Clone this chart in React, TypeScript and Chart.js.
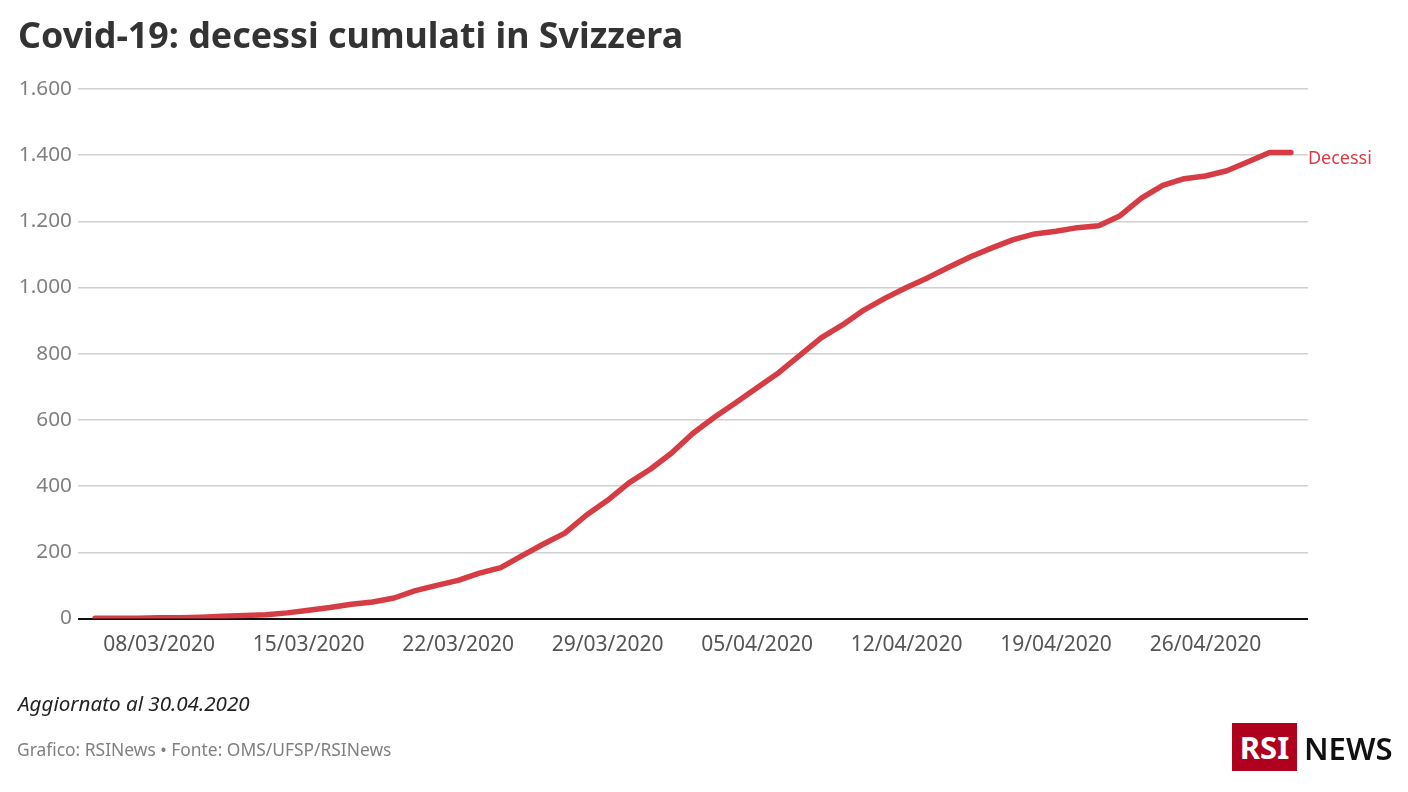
import React, { useEffect, useRef } from "react";
import { Chart, registerables } from "chart.js";

Chart.register(...registerables);

const TITLE = "Covid-19: decessi cumulati in Svizzera";
const UPDATED = "Aggiornato al 30.04.2020";
const SOURCE = "Grafico: RSINews • Fonte: OMS/UFSP/RSINews";
const SERIES_NAME = "Decessi";

const dates = [
  "05/03/2020","06/03/2020","07/03/2020","08/03/2020","09/03/2020","10/03/2020","11/03/2020",
  "12/03/2020","13/03/2020","14/03/2020","15/03/2020","16/03/2020","17/03/2020","18/03/2020",
  "19/03/2020","20/03/2020","21/03/2020","22/03/2020","23/03/2020","24/03/2020","25/03/2020",
  "26/03/2020","27/03/2020","28/03/2020","29/03/2020","30/03/2020","31/03/2020","01/04/2020",
  "02/04/2020","03/04/2020","04/04/2020","05/04/2020","06/04/2020","07/04/2020","08/04/2020",
  "09/04/2020","10/04/2020","11/04/2020","12/04/2020","13/04/2020","14/04/2020","15/04/2020",
  "16/04/2020","17/04/2020","18/04/2020","19/04/2020","20/04/2020","21/04/2020","22/04/2020",
  "23/04/2020","24/04/2020","25/04/2020","26/04/2020","27/04/2020","28/04/2020","29/04/2020",
  "30/04/2020",
];
const deaths = [
  1,1,1,2,2,4,7,9,11,17,25,33,43,50,62,84,100,115,137,154,190,225,258,312,357,410,451,500,
  560,608,652,697,742,795,848,887,932,968,1000,1030,1062,1093,1120,1145,1162,1170,1181,1187,
  1217,1270,1309,1329,1337,1353,1380,1408,1408,
];
const xTickDates = ["08/03/2020","15/03/2020","22/03/2020","29/03/2020","05/04/2020","12/04/2020","19/04/2020","26/04/2020"];
const yTicks = [0,200,400,600,800,1000,1200,1400,1600];

const FONT = "'Noto Sans', sans-serif";

const endLabel = {
  id: "endLabel",
  afterDatasetsDraw(chart: any) {
    const pt = chart.getDatasetMeta(0).data[deaths.length - 1];
    const { ctx } = chart;
    ctx.save();
    ctx.font = `18px ${FONT}`;
    ctx.fillStyle = "#dc3a44";
    ctx.textAlign = "left";
    ctx.textBaseline = "middle";
    ctx.fillText(SERIES_NAME, pt.x + 17, pt.y + 6);
    ctx.restore();
  },
};

export default function App() {
  const ref = useRef<HTMLCanvasElement>(null);
  useEffect(() => {
    const chart = new Chart(ref.current!, {
      type: "line",
      data: {
        labels: dates,
        datasets: [{
          label: SERIES_NAME,
          data: deaths.map((v, i) => ({ x: i, y: v })),
          borderColor: "#d63c44",
          borderWidth: 5.5,
          borderCapStyle: "round",
          borderJoinStyle: "round",
          pointRadius: 0,
          tension: 0,
          fill: false,
        }],
      },
      options: {
        animation: false,
        responsive: false,
        layout: { padding: { left: 0, right: 100, top: 89, bottom: 0 } },
        plugins: { legend: { display: false }, title: { display: false }, tooltip: { enabled: false } },
        scales: {
          x: {
            type: "linear",
            min: -0.8,
            max: 56.8,
            grid: { display: false },
            border: { display: false },
            afterBuildTicks: (s: any) => { s.ticks = xTickDates.map((d) => ({ value: dates.indexOf(d) })); },
            afterFit: (s: any) => { s.height = 173.5; },
            ticks: {
              autoSkip: false,
              maxRotation: 0,
              padding: 6,
              color: "#555555",
              font: { family: FONT, size: 21 },
              callback: (v: any) => dates[v],
            },
          },
          y: {
            min: 0,
            max: 1600,
            afterBuildTicks: (s: any) => { s.ticks = yTicks.map((value) => ({ value })); },
            afterFit: (s: any) => { s.width = 78; },
            border: { display: false },
            grid: {
              drawTicks: false,
              lineWidth: (c: any) => (c.tick.value === 0 ? 2 : 1.5),
              color: (c: any) => (c.tick.value === 0 ? "#111111" : "#d0d0d0"),
            },
            ticks: {
              padding: 6,
              color: "#808080",
              font: { family: FONT, size: 20.8 },
              callback: (v: any) => String(v).replace(/\B(?=(\d{3})+$)/g, "."),
            },
          },
        },
      },
      plugins: [endLabel],
    } as any);
    return () => chart.destroy();
  }, []);

  const abs: React.CSSProperties = { position: "absolute", whiteSpace: "nowrap", fontFamily: FONT };
  return (
    <div style={{ position: "absolute", left: 0, top: 0, width: 1408, height: 792, background: "#fff", overflow: "hidden" }}>
      <canvas ref={ref} width={1408} height={792} style={{ position: "absolute", left: 0, top: 0 }} />
      <div style={{ ...abs, left: 18, top: 11, fontSize: 35.8, fontWeight: 700, color: "#333333", lineHeight: "46px" }}>{TITLE}</div>
      <div style={{ ...abs, left: 18, top: 690, fontSize: 20.6, fontStyle: "italic", color: "#222222", lineHeight: "26px" }}>{UPDATED}</div>
      <div style={{ ...abs, left: 17, top: 737, fontSize: 17.4, color: "#808080", lineHeight: "24px" }}>{SOURCE}</div>
      <div style={{ ...abs, left: 1232, top: 723, width: 65, height: 48, background: "#af001e", color: "#fff", fontSize: 31, fontWeight: 700, lineHeight: "48px", textAlign: "center" }}>RSI</div>
      <div style={{ ...abs, left: 1304, top: 723, fontSize: 31, fontWeight: 600, color: "#111", lineHeight: "50px" }}>NEWS</div>
    </div>
  );
}
